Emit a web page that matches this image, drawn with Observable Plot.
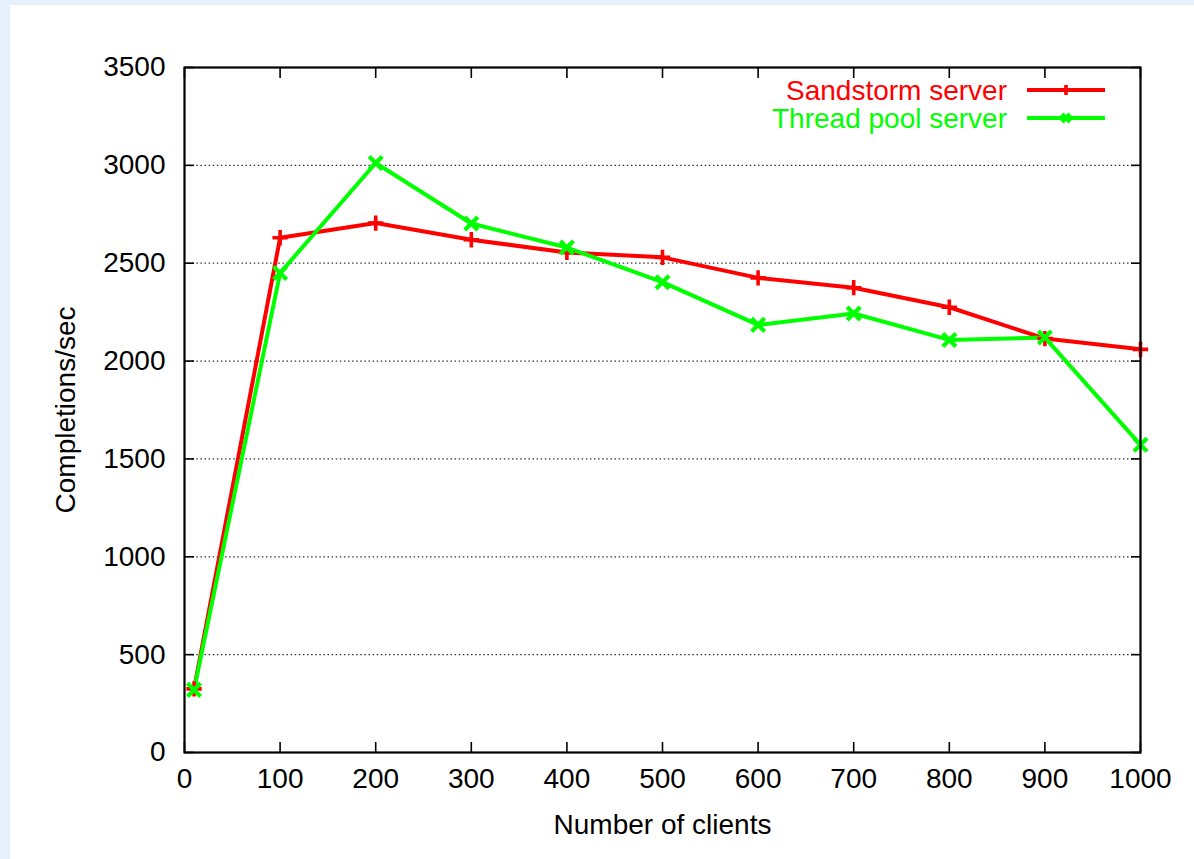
<!DOCTYPE html>
<html><head><meta charset="utf-8">
<script src="https://cdn.jsdelivr.net/npm/d3@7"></script>
<script src="https://cdn.jsdelivr.net/npm/@observablehq/plot@0.6"></script>
<style>
html,body{margin:0;padding:0;background:#e6f0fc;width:1194px;height:859px;overflow:hidden;}
#panel{position:absolute;left:10px;top:5px;width:1184px;height:854px;background:#fff;}
#legend{position:absolute;left:0;top:0;}
</style></head><body><div id="panel"></div>
<script>
const clients = [10, 100, 200, 300, 400, 500, 600, 700, 800, 900, 1000];
const sandstorm = [325, 2630, 2705, 2620, 2555, 2530, 2425, 2375, 2275, 2115, 2060];
const threadPool = [320, 2450, 3012, 2703, 2580, 2403, 2185, 2243, 2108, 2120, 1572];
const seriesNames = ["Sandstorm server", "Thread pool server"];
const seriesColors = ["#ff0000", "#00ff00"];
const seriesSymbols = ["plus", "times"];
const xTicks = [0, 100, 200, 300, 400, 500, 600, 700, 800, 900, 1000];
const yTicks = [0, 500, 1000, 1500, 2000, 2500, 3000, 3500];

const rows = [];
[sandstorm, threadPool].forEach((vals, s) => {
  clients.forEach((c, i) => rows.push({series: seriesNames[s], clients: c, value: vals[i]}));
});

const font = "'Liberation Sans', Arial, Helvetica, sans-serif";
const W = 1184, H = 854;
const mL = 174, mT = 62, mR = 54, mB = 107;
const fmt = d => String(d);

const chart = Plot.plot({
  width: W, height: H,
  marginLeft: mL, marginTop: mT, marginRight: mR, marginBottom: mB,
  style: {fontFamily: font, fontSize: "28px", background: "white", color: "black", overflow: "visible"},
  x: {domain: [0, 1000], label: null},
  y: {domain: [0, 3500], label: null},
  color: {domain: seriesNames, range: seriesColors},
  symbol: {domain: seriesNames, range: seriesSymbols},
  marks: [
    Plot.gridY(yTicks.slice(1, -1), {stroke: "#333", strokeOpacity: 1, strokeWidth: 1.3, strokeDasharray: "1.5,2.6"}),
    Plot.line(rows, {x: "clients", y: "value", z: "series", stroke: "series", strokeWidth: 4, strokeLinejoin: "round"}),
    Plot.dot(rows.filter(d => d.series === seriesNames[0]), {x: "clients", y: "value", symbol: "series", stroke: "series", r: 5, strokeWidth: 3.6}),
    Plot.dot(rows.filter(d => d.series === seriesNames[1]), {x: "clients", y: "value", symbol: "series", stroke: "series", r: 6, strokeWidth: 4.2}),
    Plot.axisX(xTicks, {anchor: "bottom", tickSize: 10, dy: -10, tickFormat: () => "", label: null, strokeWidth: 1.6}),
    Plot.axisX(xTicks, {anchor: "top", tickSize: 10, dy: 10, tickFormat: () => "", label: null, strokeWidth: 1.6}),
    Plot.axisY(yTicks, {anchor: "left", tickSize: 10, dx: 10, tickFormat: () => "", label: null, strokeWidth: 1.6}),
    Plot.axisY(yTicks, {anchor: "right", tickSize: 10, dx: -10, tickFormat: () => "", label: null, strokeWidth: 1.6}),
    Plot.axisX(xTicks, {anchor: "bottom", tickSize: 0, tickPadding: 16, tickFormat: fmt, label: "Number of clients", labelAnchor: "center", labelOffset: 81, labelArrow: "none"}),
    Plot.axisY(yTicks, {anchor: "left", tickSize: 0, tickPadding: 19, tickFormat: fmt, label: "Completions/sec", labelAnchor: "center", labelOffset: 129, labelArrow: "none"}),
    Plot.frame({stroke: "black", strokeWidth: 2.2})
  ]
});
const panel = document.getElementById("panel");
panel.appendChild(chart);

// legend overlay
const leg = d3.select(panel).append("svg").attr("id", "legend")
  .attr("width", W).attr("height", 160)
  .style("font-family", font).style("font-size", "28px");
seriesNames.forEach((name, i) => {
  const y = 85 + i * 28;
  leg.append("text").attr("x", 997).attr("y", y).attr("dy", "0.35em")
    .attr("text-anchor", "end").attr("fill", seriesColors[i]).text(name);
  leg.append("line").attr("x1", 1017).attr("x2", 1095).attr("y1", y).attr("y2", y)
    .attr("stroke", seriesColors[i]).attr("stroke-width", 4);
  leg.append("path").attr("transform", `translate(1056,${y})`)
    .attr("d", i === 0
      ? "M-5,0H5M0,-5V5"
      : "M-4,-4L4,4M-4,4L4,-4")
    .attr("stroke", seriesColors[i]).attr("stroke-width", i === 0 ? 3.6 : 4.2).attr("fill", "none");
});
</script></body></html>
